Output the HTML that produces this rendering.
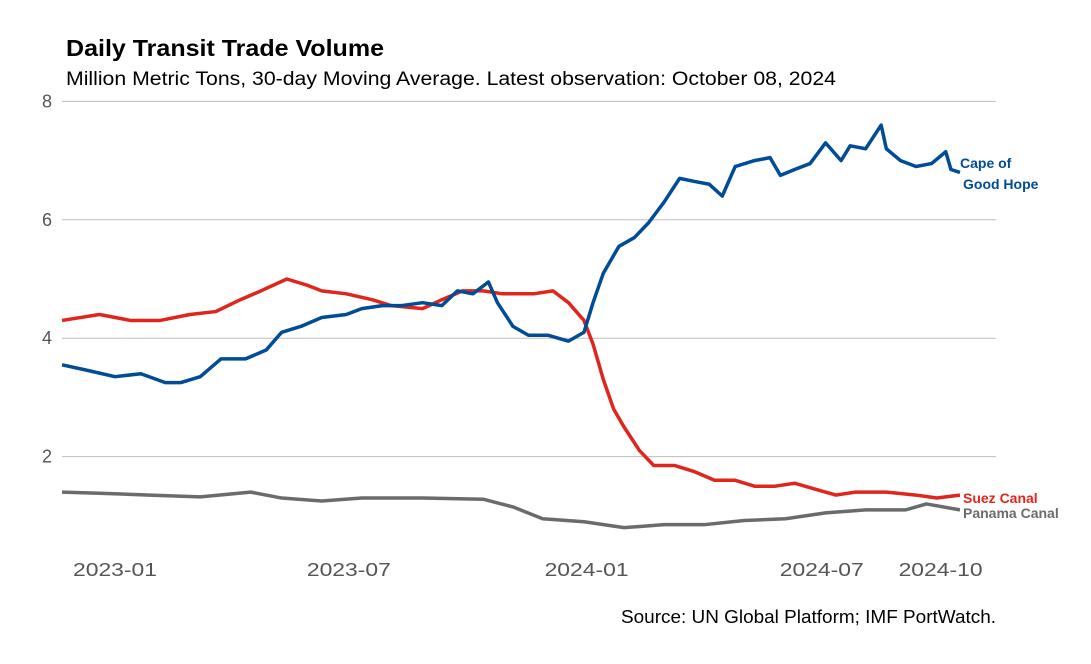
<!DOCTYPE html>
<html><head><meta charset="utf-8"><style>
body{margin:0;background:#fff;font-family:"Liberation Sans",sans-serif}
svg{display:block}
</style></head><body>
<svg id="c" width="1091" height="664" xmlns="http://www.w3.org/2000/svg">
<text x="66" y="56" font-size="23" font-weight="bold" fill="#000" textLength="318" lengthAdjust="spacingAndGlyphs">Daily Transit Trade Volume</text>
<text x="66" y="85" font-size="19" fill="#000" textLength="770" lengthAdjust="spacingAndGlyphs">Million Metric Tons, 30-day Moving Average. Latest observation: October 08, 2024</text>
<text x="996" y="623" font-size="18" fill="#000" text-anchor="end" textLength="375" lengthAdjust="spacingAndGlyphs">Source: UN Global Platform; IMF PortWatch.</text>
<g id="grid"></g><g id="lines"></g><g id="labels"></g>
</svg>
<script>
// days since 2023-01-01
const yTicks=[2,4,6,8];
const xTickDays=[0,181,365,547,639];
const xTickLabels=["2023-01","2023-07","2024-01","2024-07","2024-10"];
const capeDays=[-41,-20,0,20,39,51,66,82,101,117,129,144,160,179,191,207,222,238,253,265,277,289,296,308,320,335,351,363,370,378,390,402,413,425,437,448,460,470,480,495,507,515,526,538,550,562,569,581,593,597,608,620,632,643,647,654];
const capeVals=[3.55,3.45,3.35,3.4,3.25,3.25,3.35,3.65,3.65,3.8,4.1,4.2,4.35,4.4,4.5,4.55,4.55,4.6,4.55,4.8,4.75,4.95,4.6,4.2,4.05,4.05,3.95,4.1,4.6,5.1,5.55,5.7,5.95,6.3,6.7,6.65,6.6,6.4,6.9,7.0,7.05,6.75,6.85,6.95,7.3,7.0,7.25,7.2,7.6,7.2,7.0,6.9,6.95,7.15,6.85,6.8];
const suezDays=[-41,-12,12,35,58,78,97,113,133,148,160,179,199,214,238,253,269,285,300,324,339,351,363,370,378,386,394,406,417,433,448,464,480,495,511,526,542,558,573,597,620,636,654];
const suezVals=[4.3,4.4,4.3,4.3,4.4,4.45,4.65,4.8,5.0,4.9,4.8,4.75,4.65,4.55,4.5,4.65,4.8,4.8,4.75,4.75,4.8,4.6,4.3,3.9,3.3,2.8,2.5,2.1,1.85,1.85,1.75,1.6,1.6,1.5,1.5,1.55,1.45,1.35,1.4,1.4,1.35,1.3,1.35];
const panDays=[-41,-12,27,66,105,129,160,191,238,285,308,331,363,394,425,456,487,519,550,581,612,628,654];
const panVals=[1.4,1.38,1.35,1.32,1.4,1.3,1.25,1.3,1.3,1.28,1.15,0.95,0.9,0.8,0.85,0.85,0.92,0.95,1.05,1.1,1.1,1.2,1.1];

const X=d=>115+d*1.292;
const Y=v=>575-v*59.2;
const NS="http://www.w3.org/2000/svg";
function mk(t,a,p){const e=document.createElementNS(NS,t);for(const k in a)e.setAttribute(k,a[k]);p.appendChild(e);return e;}
const grid=document.getElementById('grid'),lines=document.getElementById('lines'),labels=document.getElementById('labels');
yTicks.forEach(v=>{
  const l=mk('line',{x1:62,x2:996,y1:Y(v),y2:Y(v),stroke:'#bdbdbd','stroke-width':1},grid);
  
  
  const t=mk('text',{x:52,y:Y(v)+6,'font-size':18,fill:'#555','text-anchor':'end'},grid);
  t.textContent=v;
  
  
});
xTickDays.forEach((d,i)=>{
  const t=mk('text',{x:X(d),y:576,'font-size':18,fill:'#555','text-anchor':'middle',textLength:84,lengthAdjust:'spacingAndGlyphs'},grid);
  t.textContent=xTickLabels[i];
  
  
});
function series(days,vals,col,name){
  const p=mk('polyline',{points:days.map((d,i)=>X(d)+','+Y(vals[i])).join(' '),fill:'none',stroke:col,'stroke-width':3.5,'stroke-linejoin':'round'},lines);
  
  
}
series(panDays,panVals,'#6b6b6b','panama-canal-line');
series(suezDays,suezVals,'#e0261c','suez-canal-line');
series(capeDays,capeVals,'#004c97','cape-of-good-hope-line');
function lab(x,y,txt,col,name){
  const t=mk('text',{x:x,y:y,'font-size':14,'font-weight':'bold',fill:col},labels);
  t.textContent=txt;
  
  
}
lab(960,168,'Cape of','#004c97','cape-label-line1');
lab(963,189,'Good Hope','#004c97','cape-label-line2');
lab(963,503,'Suez Canal','#e0261c','suez-label');
lab(963,518,'Panama Canal','#6b6b6b','panama-label');
</script>
</body></html>
